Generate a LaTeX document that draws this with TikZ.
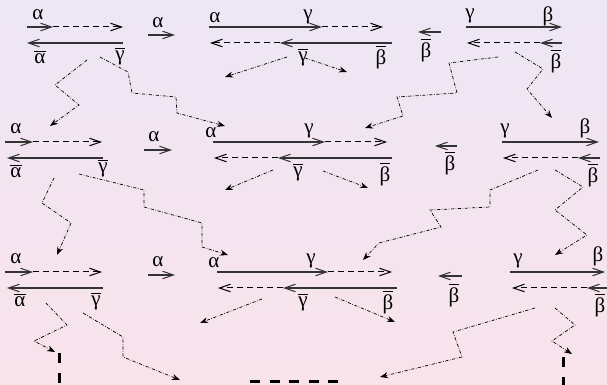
\documentclass[tikz,border=0pt]{standalone}
\usepackage{fontspec}
\setmainfont{Liberation Serif}
\usepackage{tikz}
\usetikzlibrary{arrows.meta}
\definecolor{bgtop}{RGB}{237,230,245}
\definecolor{bgbot}{RGB}{249,227,235}
\newcommand{\ov}[1]{$\overline{\hbox{#1}}$}

\begin{document}
\begin{tikzpicture}[
    x=0.5pt,y=-0.5pt,
    lbl/.style={inner sep=0pt,font=\fontsize{10.5pt}{12pt}\selectfont},
    sol/.style={line width=0.6pt,draw=black!80,-{Straight Barb[length=5.5pt,width=3.8pt,line width=0.5pt]}},
    dsh/.style={line width=0.5pt,dash pattern=on 3pt off 2pt,-{Straight Barb[length=5.5pt,width=3.8pt,line width=0.5pt]}},
    zig/.style={line width=0.35pt,dash pattern=on 1.6pt off 0.8pt on 0.3pt off 0.8pt,-{Stealth[length=4pt,width=3pt]}},
    thk/.style={line width=1.5pt,dash pattern=on 5pt off 4.8pt}
  ]
    \shade[top color=bgtop,bottom color=bgbot] (0,0) rectangle (607,385);
    \useasboundingbox (0,0) rectangle (607,385);

    % row 1
    \node[lbl] (a1) at (38,15) {α};
    \node[lbl] (ab1) at (40,57) {\ov{α}};
    \node[lbl] (gb1) at (120,56) {\ov{γ}};
    \draw[sol] (27,27) -- (53,27);
    \draw[dsh] (53,27) -- (123,27);
    \draw[sol] (123,43) -- (27,43);
    \node[lbl] (s1) at (158,23) {α};
    \draw[sol] (148,35) -- (175,35);

    \node[lbl] (ma1) at (215,18) {α};
    \node[lbl] (mg1) at (308,17) {γ};
    \node[lbl] (mgb1) at (303,57) {\ov{γ}};
    \node[lbl] (mbb1) at (381,57) {\ov{β}};
    \draw[sol] (209,27) -- (322,27);
    \draw[dsh] (322,27) -- (383,27);
    \draw[sol] (392,43) -- (280,43);
    \draw[dsh] (280,43) -- (210,43);
    \draw[zig] (287,57) -- (225,77);
    \draw[zig] (305,58) -- (347,72);

    \node[lbl] (t1) at (426,50) {\ov{β}};
    \draw[sol] (441,32) -- (418,32);
    \node[lbl] (rg1) at (470,16) {γ};
    \node[lbl] (rb1) at (548,16) {β};
    \node[lbl] (rbb1) at (556,61) {\ov{β}};
    \draw[sol] (466,27) -- (562,27);
    \draw[sol] (562,43) -- (540,43);
    \draw[dsh] (540,43) -- (467,43);

    % row 2
    \node[lbl] (a2) at (16,129) {α};
    \node[lbl] (ab2) at (16,171) {\ov{α}};
    \node[lbl] (gb2) at (103,168) {\ov{γ}};
    \draw[sol] (5,142) -- (33,142);
    \draw[dsh] (33,142) -- (102,142);
    \draw[sol] (103,158) -- (7,158);
    \node[lbl] (s2) at (154,137) {α};
    \draw[sol] (144,150) -- (172,150);

    \node[lbl] (ma2) at (211,133) {α};
    \node[lbl] (mg2) at (309,131) {γ};
    \node[lbl] (mgb2) at (298,172) {\ov{γ}};
    \node[lbl] (mbb2) at (385,174) {\ov{β}};
    \draw[sol] (213,142) -- (325,142);
    \draw[dsh] (325,142) -- (387,142);
    \draw[sol] (392,158) -- (278,158);
    \draw[dsh] (278,158) -- (214,158);
    \draw[zig] (273,170) -- (225,190);
    \draw[zig] (323,171) -- (368,188);

    \node[lbl] (t2) at (450,163) {\ov{β}};
    \draw[sol] (457,146) -- (435,146);
    \node[lbl] (rg2) at (505,131) {γ};
    \node[lbl] (rb2) at (585,128) {β};
    \node[lbl] (rbb2) at (593,175) {\ov{β}};
    \draw[sol] (502,142) -- (599,142);
    \draw[sol] (600,158) -- (578,158);
    \draw[dsh] (578,158) -- (503,158);

    % row 3
    \node[lbl] (a3) at (16,259) {α};
    \node[lbl] (ab3) at (20,300) {\ov{α}};
    \node[lbl] (gb3) at (96,301) {\ov{γ}};
    \draw[sol] (5,272) -- (33,272);
    \draw[dsh] (33,272) -- (102,272);
    \draw[sol] (103,288) -- (7,288);
    \node[lbl] (s3) at (158,262) {α};
    \draw[sol] (148,275) -- (175,275);

    \node[lbl] (ma3) at (214,263) {α};
    \node[lbl] (mg3) at (311,261) {γ};
    \node[lbl] (mgb3) at (303,302) {\ov{γ}};
    \node[lbl] (mbb3) at (388,302) {\ov{β}};
    \draw[sol] (217,272) -- (328,272);
    \draw[dsh] (328,272) -- (392,272);
    \draw[sol] (397,288) -- (283,288);
    \draw[dsh] (283,288) -- (218,288);
    \draw[zig] (262,299) -- (200,323);
    \draw[zig] (335,297) -- (395,322);

    \node[lbl] (t3) at (454,295) {\ov{β}};
    \draw[sol] (462,276) -- (438,276);
    \node[lbl] (rg3) at (518,261) {γ};
    \node[lbl] (rb3) at (598,256) {β};
    \node[lbl] (rbb3) at (600,305) {\ov{β}};
    \draw[sol] (510,272) -- (605,272);
    \draw[sol] (607,288) -- (587,288);
    \draw[dsh] (587,288) -- (512,288);

    % zigzag links between rows
    \coordinate (z1a) at (87,60);   \coordinate (z1b) at (50,126);
    \coordinate (z2a) at (100,57);  \coordinate (z2b) at (225,126);
    \coordinate (z3a) at (498,57);  \coordinate (z3b) at (365,128);
    \coordinate (z4a) at (515,52);  \coordinate (z4b) at (552,118);
    \coordinate (z5a) at (54,178);  \coordinate (z5b) at (57,255);
    \coordinate (z6a) at (79,174);  \coordinate (z6b) at (228,255);
    \coordinate (z7a) at (538,170); \coordinate (z7b) at (363,260);
    \coordinate (z8a) at (555,170); \coordinate (z8b) at (555,255);
    \coordinate (z9a) at (46,303);  \coordinate (z9b) at (55,352);
    \coordinate (z10a) at (83,313); \coordinate (z10b) at (180,380);
    \coordinate (z11a) at (535,308); \coordinate (z11b) at (380,377);
    \coordinate (z12a) at (555,308); \coordinate (z12b) at (572,354);

    \draw[zig] (z1a) -- (55,85) -- (79,105) -- (z1b);
    \draw[zig] (z2a) -- (128,72) -- (132,93) -- (176,97) -- (177,113) -- (z2b);
    \draw[zig] (z3a) -- (449,63) -- (457,93) -- (397,97) -- (403,116) -- (z3b);
    \draw[zig] (z4a) -- (543,69) -- (527,89) -- (z4b);
    \draw[zig] (z5a) -- (42,203) -- (71,223) -- (z5b);
    \draw[zig] (z6a) -- (144,190) -- (144,207) -- (202,223) -- (202,247) -- (z6b);
    \draw[zig] (z7a) -- (490,190) -- (490,207) -- (430,210) -- (441,227) -- (379,243) -- (z7b);
    \draw[zig] (z8a) -- (583,187) -- (555,210) -- (587,235) -- (z8b);
    \draw[zig] (z9a) -- (67,325) -- (34,341) -- (z9b);
    \draw[zig] (z10a) -- (123,337) -- (123,357) -- (z10b);
    \draw[zig] (z11a) -- (453,332) -- (462,357) -- (z11b);
    \draw[zig] (z12a) -- (575,325) -- (552,341) -- (z12b);

    % open ends at the bottom
    \coordinate (e1a) at (59,353);  \coordinate (e1b) at (59,385);
    \coordinate (e2a) at (250,382); \coordinate (e2b) at (338,382);
    \coordinate (e3a) at (563,357); \coordinate (e3b) at (563,385);
    \draw[thk] (e1a) -- (e1b);
    \draw[thk] (e2a) -- (e2b);
    \draw[thk] (e3a) -- (e3b);
  \end{tikzpicture}
\end{document}
